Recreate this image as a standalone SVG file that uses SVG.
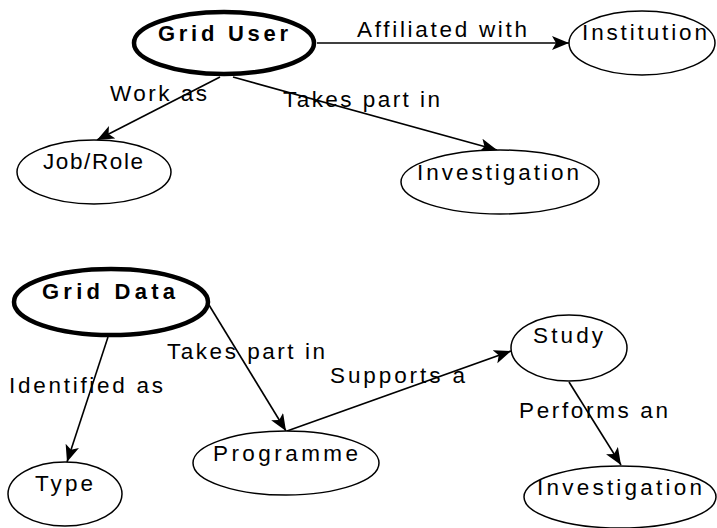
<svg xmlns="http://www.w3.org/2000/svg" width="717" height="528" viewBox="0 0 717 528">
<style>
.n{fill:#fff;stroke:#000;stroke-width:1.5}
.b{fill:#fff;stroke:#000;stroke-width:4.5}
text{font-family:"Liberation Sans",Arial,sans-serif;font-size:22.5px;fill:#000}
.bt{font-weight:bold;font-size:22px}
.e{fill:none;stroke:#000;stroke-width:1.6}
</style>
<defs>
<marker id="ah" markerUnits="userSpaceOnUse" markerWidth="20" markerHeight="16" refX="17" refY="7" orient="auto">
<path d="M0,0 L17,7 L0,14 L4,7 z" fill="#000"/>
</marker>
</defs>
<rect width="717" height="528" fill="#fff"/>
<g id="connectors">
<line class="e" x1="317" y1="43" x2="569" y2="43" marker-end="url(#ah)"/>
<line class="e" x1="220" y1="77" x2="97" y2="140" marker-end="url(#ah)"/>
<line class="e" x1="233" y1="77" x2="497" y2="150" marker-end="url(#ah)"/>
<line class="e" x1="108" y1="337" x2="67" y2="462" marker-end="url(#ah)"/>
<line class="e" x1="209" y1="305" x2="286" y2="431" marker-end="url(#ah)"/>
<line class="e" x1="287" y1="431" x2="511" y2="351" marker-end="url(#ah)"/>
<line class="e" x1="569" y1="382" x2="621" y2="465" marker-end="url(#ah)"/>
<text x="357" y="37" textLength="170" lengthAdjust="spacing">Affiliated with</text>
<text x="110" y="101" textLength="97" lengthAdjust="spacing">Work as</text>
<text x="283" y="107" textLength="157" lengthAdjust="spacing">Takes part in</text>
<text x="9" y="393" textLength="154" lengthAdjust="spacing">Identified as</text>
<text x="167" y="359" textLength="158" lengthAdjust="spacing">Takes part in</text>
<text x="330" y="383" textLength="135" lengthAdjust="spacing">Supports a</text>
<text x="519" y="418" textLength="149" lengthAdjust="spacing">Performs an</text>
</g>
<g id="grid-user">
<ellipse class="b" cx="224" cy="43" rx="90" ry="31"/>
<text class="bt" x="158" y="41" textLength="130" lengthAdjust="spacing">Grid User</text>
</g>
<g id="institution">
<ellipse class="n" cx="642" cy="43" rx="73" ry="32"/>
<text x="582" y="40" textLength="125" lengthAdjust="spacing">Institution</text>
</g>
<g id="job-role">
<ellipse class="n" cx="94" cy="172" rx="77" ry="32"/>
<text x="43" y="169" textLength="100" lengthAdjust="spacing">Job/Role</text>
</g>
<g id="investigation-1">
<ellipse class="n" cx="500" cy="182" rx="99" ry="32"/>
<text x="417" y="180" textLength="162" lengthAdjust="spacing">Investigation</text>
</g>
<g id="grid-data">
<ellipse class="b" cx="111" cy="302" rx="97" ry="33"/>
<text class="bt" x="42" y="299" textLength="133" lengthAdjust="spacing">Grid Data</text>
</g>
<g id="type">
<ellipse class="n" cx="65" cy="494" rx="57" ry="32"/>
<text x="35" y="491" textLength="58" lengthAdjust="spacing">Type</text>
</g>
<g id="programme">
<ellipse class="n" cx="286" cy="463" rx="93" ry="32"/>
<text x="213" y="461" textLength="145" lengthAdjust="spacing">Programme</text>
</g>
<g id="study">
<ellipse class="n" cx="569" cy="348" rx="58" ry="33"/>
<text x="533" y="343" textLength="70" lengthAdjust="spacing">Study</text>
</g>
<g id="investigation-2">
<ellipse class="n" cx="620" cy="497" rx="96" ry="31"/>
<text x="537" y="495" textLength="165" lengthAdjust="spacing">Investigation</text>
</g>
</svg>
